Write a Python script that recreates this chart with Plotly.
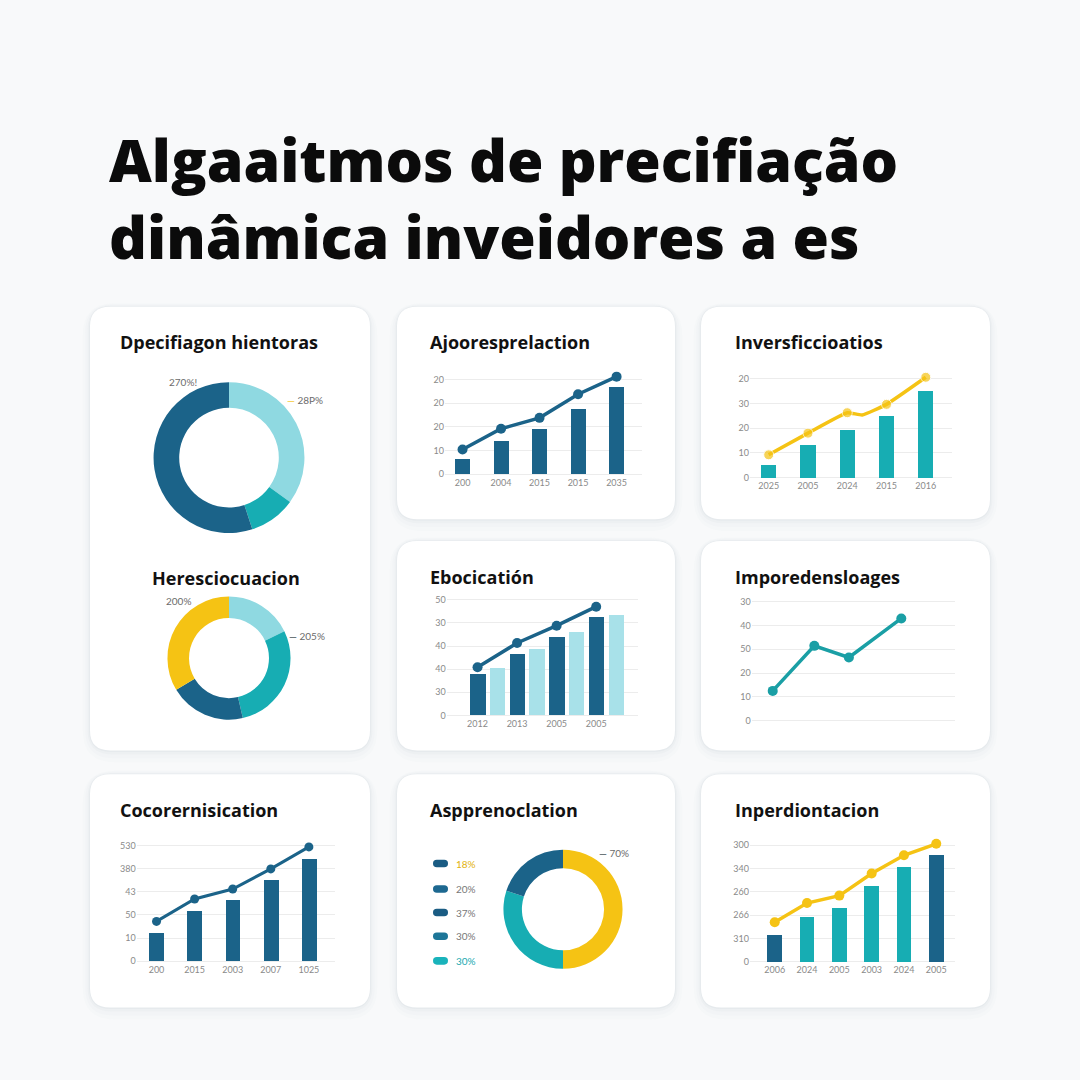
import plotly.graph_objects as go

W = H = 1080


def px(x):
    return x / W


def py(y):
    return 1 - y / H


# ---------------- colours ----------------
DARK = "#1b6389"
TEAL = "#17adb3"
TEAL_LINE = "#1a9fa5"
LIGHT = "#a8e1e9"
LIGHT_DONUT = "#8fd9e1"
YELLOW = "#f5c314"
GRID = "#ececec"
TICK = "#8a8a8a"
FONT = "Lato"
HEAD = "Open Sans"

# ---------------- data ----------------
title_line1 = "Algaaitmos de precifiação"
title_line2 = "dinâmica inveidores a es"

panel_titles = [
    "Dpecifiagon hientoras", "Heresciocuacion", "Ajooresprelaction",
    "Inversficcioatios", "Ebocicatión", "Imporedensloages",
    "Cocorernisication", "Aspprenoclation", "Inperdiontacion",
]

# donut 1 (top-left)
d1_values = [35, 10, 55]
d1_colors = [LIGHT_DONUT, TEAL, DARK]
d1_label_a = "270%!"
d1_label_b = "28P%"

# donut 2 (left, lower)
d2_values = [17.8, 28.6, 20.0, 33.6]
d2_colors = [LIGHT_DONUT, TEAL, DARK, YELLOW]
d2_label_a = "200%"
d2_label_b = "205%"

# panel 2 : bars + line
p2_x = [0, 1, 2, 3, 4]
p2_xlabels = ["200", "2004", "2015", "2015", "2035"]
p2_bars = [6.2, 14.2, 19.2, 27.5, 36.7]
p2_line = [10.4, 19.2, 23.8, 33.8, 41.2]
p2_yticks = [0, 10, 20, 30, 40]
p2_ylabels = ["0", "10", "20", "20", "20"]

# panel 3 : teal bars + yellow line (with a dip between 3rd and 4th point)
p3_x = [0, 1, 2, 3, 4]
p3_xlabels = ["2025", "2005", "2024", "2015", "2016"]
p3_bars = [5.2, 13.2, 19.5, 25.0, 35.4]
p3_line_x = [0, 1, 2, 2.38, 3, 4]
p3_line = [9.2, 18.0, 26.3, 25.4, 29.7, 40.7]
p3_marker = [10, 10, 10, 0, 10, 10]
p3_yticks = [0, 10, 20, 30, 40]
p3_ylabels = ["0", "10", "20", "30", "20"]

# panel 5 : paired bars + line
p5_x = [0, 1, 2, 3]
p5_xlabels = ["2012", "2013", "2005", "2005"]
p5_dark = [17.5, 26.2, 33.6, 42.2]
p5_light = [20.3, 28.5, 35.9, 43.1]
p5_line = [20.8, 31.3, 38.8, 47.0]
p5_yticks = [0, 10, 20, 30, 40, 50]
p5_ylabels = ["0", "30", "40", "40", "30", "50"]

# panel 6 : line only
p6_x = [0, 1, 1.83, 3.09]
p6_line = [12.5, 31.4, 26.5, 42.9]
p6_yticks = [0, 10, 20, 30, 40, 50]
p6_ylabels = ["0", "10", "20", "50", "40", "30"]

# panel 7 : bars + line
p7_x = [0, 1, 2, 3, 4]
p7_xlabels = ["200", "2015", "2003", "2007", "1025"]
p7_bars = [12.0, 21.5, 26.3, 34.8, 44.3]
p7_line = [17.2, 26.9, 31.2, 39.9, 49.4]
p7_yticks = [0, 10, 20, 30, 40, 50]
p7_ylabels = ["0", "10", "50", "43", "380", "530"]

# panel 8 : donut + pseudo legend
d3_values = [50, 30, 20]
d3_colors = [YELLOW, TEAL, DARK]
d3_label = "70%"
leg8_text = ["18%", "20%", "37%", "30%", "30%"]
leg8_pill = ["#1a5c83", "#1d6890", "#1a5c83", "#1d7698", "#19b3bb"]
leg8_txtcol = ["#e2b20c", "#777777", "#777777", "#777777", "#19a9b0"]

# panel 9 : bars + yellow line
p9_x = [0, 1, 2, 3, 4, 5]
p9_xlabels = ["2006", "2024", "2005", "2003", "2024", "2005"]
p9_bars = [11.9, 19.3, 23.4, 32.9, 40.9, 46.0]
p9_bar_colors = [DARK, TEAL, TEAL, TEAL, TEAL, DARK]
p9_line = [17.0, 25.2, 28.4, 37.9, 45.7, 50.6]
p9_yticks = [0, 10, 20, 30, 40, 50]
p9_ylabels = ["0", "310", "266", "260", "340", "300"]

# ---------------- figure ----------------
fig = go.Figure()
layout = {}
tickfont = dict(family=FONT, size=9, color=TICK)


def add_axes(n, x0, x1, base, ppu, ymax, xr, yvals, ytext, xvals=None, xtext=None):
    xa = "xaxis" if n == 1 else f"xaxis{n}"
    ya = "yaxis" if n == 1 else f"yaxis{n}"
    ymin = -0.6
    bottom = base - ymin * ppu
    top = base - ymax * ppu
    layout[xa] = dict(
        domain=[px(x0), px(x1)], range=xr, anchor="y" if n == 1 else f"y{n}",
        showgrid=False, zeroline=False, showline=False, ticks="",
        tickvals=xvals if xvals is not None else [], ticktext=xtext if xtext is not None else [],
        showticklabels=xvals is not None, tickfont=tickfont, fixedrange=True,
    )
    layout[ya] = dict(
        domain=[py(bottom), py(top)], range=[ymin, ymax], anchor="x" if n == 1 else f"x{n}",
        showgrid=True, gridcolor=GRID, gridwidth=1, zeroline=False, showline=False,
        ticks="", tickvals=yvals, ticktext=ytext, tickfont=tickfont, fixedrange=True,
    )
    return ("x" if n == 1 else f"x{n}"), ("y" if n == 1 else f"y{n}")


# panel 2
xa, ya = add_axes(1, 445, 642, 473.7, 2.385, 44, [-0.455, 4.66], p2_yticks, p2_ylabels, p2_x, p2_xlabels)
fig.add_trace(go.Bar(x=p2_x, y=p2_bars, width=0.39, marker=dict(color=DARK, line=dict(width=0)),
                     xaxis=xa, yaxis=ya, showlegend=False))
fig.add_trace(go.Scatter(x=p2_x, y=p2_line, mode="lines+markers", line=dict(color=DARK, width=3.5),
                         marker=dict(size=10, color=DARK), cliponaxis=False, xaxis=xa, yaxis=ya, showlegend=False))

# panel 3
xa, ya = add_axes(2, 750, 951.7, 477, 2.48, 43, [-0.476, 4.66], p3_yticks, p3_ylabels, p3_x, p3_xlabels)
fig.add_trace(go.Bar(x=p3_x, y=p3_bars, width=0.39, marker=dict(color=TEAL, line=dict(width=0)),
                     xaxis=xa, yaxis=ya, showlegend=False))
fig.add_trace(go.Scatter(x=p3_line_x, y=p3_line, mode="lines+markers", line=dict(color=YELLOW, width=3.5, shape="spline", smoothing=0.4),
                         marker=dict(size=p3_marker, color=YELLOW), cliponaxis=False, xaxis=xa, yaxis=ya, showlegend=False))

# panel 5
xa, ya = add_axes(3, 446.7, 637.7, 716.7, 2.33, 51, [-0.78, 4.05], p5_yticks, p5_ylabels, p5_x, p5_xlabels)
fig.add_trace(go.Bar(x=p5_x, y=p5_dark, width=0.39, offset=-0.195, marker=dict(color=DARK, line=dict(width=0)),
                     xaxis=xa, yaxis=ya, showlegend=False))
fig.add_trace(go.Bar(x=p5_x, y=p5_light, width=0.39, offset=0.305, marker=dict(color=LIGHT, line=dict(width=0)),
                     xaxis=xa, yaxis=ya, showlegend=False))
fig.add_trace(go.Scatter(x=p5_x, y=p5_line, mode="lines+markers", line=dict(color=DARK, width=3.5),
                         marker=dict(size=10, color=DARK), cliponaxis=False, xaxis=xa, yaxis=ya, showlegend=False))

# panel 6
xa, ya = add_axes(4, 751.7, 955, 722, 2.4, 51, [-0.505, 4.38], p6_yticks, p6_ylabels)
fig.add_trace(go.Scatter(x=p6_x, y=p6_line, mode="lines+markers", line=dict(color=TEAL_LINE, width=3.5),
                         marker=dict(size=10, color=TEAL_LINE), cliponaxis=False, xaxis=xa, yaxis=ya, showlegend=False))

# panel 7
xa, ya = add_axes(5, 136.7, 335, 964.3, 2.33, 51, [-0.52, 4.685], p7_yticks, p7_ylabels, p7_x, p7_xlabels)
fig.add_trace(go.Bar(x=p7_x, y=p7_bars, width=0.39, marker=dict(color=DARK, line=dict(width=0)),
                     xaxis=xa, yaxis=ya, showlegend=False))
fig.add_trace(go.Scatter(x=p7_x, y=p7_line, mode="lines+markers", line=dict(color=DARK, width=3),
                         marker=dict(size=9, color=DARK), cliponaxis=False, xaxis=xa, yaxis=ya, showlegend=False))

# panel 9
xa, ya = add_axes(6, 750, 955, 965, 2.35, 52, [-0.765, 5.58], p9_yticks, p9_ylabels, p9_x, p9_xlabels)
fig.add_trace(go.Bar(x=p9_x, y=p9_bars, width=0.46, marker=dict(color=p9_bar_colors, line=dict(width=0)),
                     xaxis=xa, yaxis=ya, showlegend=False))
fig.add_trace(go.Scatter(x=p9_x, y=p9_line, mode="lines+markers", line=dict(color=YELLOW, width=3.5),
                         marker=dict(size=10, color=YELLOW), cliponaxis=False, xaxis=xa, yaxis=ya, showlegend=False))


# donuts
def donut(values, colors, cx, cy, r, hole):
    return go.Pie(values=values, marker=dict(colors=colors, line=dict(width=0)), hole=hole,
                  sort=False, direction="clockwise", rotation=0, textinfo="none", hoverinfo="skip",
                  domain=dict(x=[px(cx - r), px(cx + r)], y=[py(cy + r), py(cy - r)]), showlegend=False)


fig.add_trace(donut(d1_values, d1_colors, 229, 457, 76, 0.66))
fig.add_trace(donut(d2_values, d2_colors, 229, 659, 62, 0.65))
fig.add_trace(donut(d3_values, d3_colors, 563, 912, 60, 0.69))

# ---------------- cards ----------------
cards = [
    (90, 305, 370, 752), (397, 305, 675, 519), (701, 305, 990, 519),
    (397, 541, 675, 752), (701, 541, 990, 752),
    (90, 776, 370, 1011), (397, 776, 675, 1011), (701, 776, 990, 1011),
]


def rrect(x0, y0, x1, y1, r):
    X0, X1 = px(x0), px(x1)
    Y0, Y1 = py(y0), py(y1)  # Y0 top (bigger), Y1 bottom
    R = r / W
    return (f"M {X0+R},{Y0} L {X1-R},{Y0} Q {X1},{Y0} {X1},{Y0-R} "
            f"L {X1},{Y1+R} Q {X1},{Y1} {X1-R},{Y1} L {X0+R},{Y1} Q {X0},{Y1} {X0},{Y1+R} "
            f"L {X0},{Y0-R} Q {X0},{Y0} {X0+R},{Y0} Z")


shapes = []
for (x0, y0, x1, y1) in cards:
    for g, a in [(12, 0.018), (8, 0.025), (4, 0.035), (1.5, 0.05)]:
        shapes.append(dict(type="path", path=rrect(x0 - g * 0.6, y0 - g * 0.3, x1 + g * 0.6, y1 + g, 20 + g),
                           xref="paper", yref="paper", fillcolor=f"rgba(120,135,150,{a})",
                           line=dict(width=0), layer="below"))
    shapes.append(dict(type="path", path=rrect(x0, y0, x1, y1, 20), xref="paper", yref="paper",
                       fillcolor="#ffffff", line=dict(width=0), layer="below"))

# legend pills for panel 8
leg_rows = [866, 891.7, 915.3, 939.3, 964]
for yy, col in zip(leg_rows, leg8_pill):
    shapes.append(dict(type="path", path=rrect(433, yy - 3.8, 448, yy + 3.8, 3.8), xref="paper", yref="paper",
                       fillcolor=col, line=dict(width=0), layer="above"))

# ---------------- annotations ----------------
ann = []
ann.append(dict(text=f"{title_line1}<br>{title_line2}", x=px(107), y=py(195), xanchor="left", yanchor="middle",
                align="left",
                font=dict(family=HEAD, size=59, color="#0b0b0b", weight=800), showarrow=False, xref="paper", yref="paper"))

title_pos = [(118, 341), (150, 578), (428, 341), (733, 341), (428, 577), (733, 577), (118, 812), (428, 812), (733, 812)]
for t, (x, y) in zip(panel_titles, title_pos):
    ann.append(dict(text=t, x=px(x), y=py(y), xanchor="left", yanchor="middle",
                    font=dict(family=HEAD, size=18, color="#111111", weight=700), showarrow=False, xref="paper", yref="paper"))

small = dict(family=FONT, size=10, color="#6b6b6b")
ann.append(dict(text=d1_label_a, x=px(183), y=py(381), xanchor="center", yanchor="middle", font=small,
                showarrow=False, xref="paper", yref="paper"))
ann.append(dict(text=f"<span style='color:{YELLOW}'>—</span> {d1_label_b}", x=px(285), y=py(399),
                xanchor="left", yanchor="middle", font=small, showarrow=False, xref="paper", yref="paper"))
ann.append(dict(text=d2_label_a, x=px(178), y=py(601), xanchor="center", yanchor="middle", font=small,
                showarrow=False, xref="paper", yref="paper"))
ann.append(dict(text=f"<span style='color:#2b3a44'>—</span> {d2_label_b}", x=px(287), y=py(637),
                xanchor="left", yanchor="middle", font=small, showarrow=False, xref="paper", yref="paper"))
ann.append(dict(text=f"<span style='color:#2b3a44'>—</span> {d3_label}", x=px(597), y=py(855),
                xanchor="left", yanchor="middle", font=small, showarrow=False, xref="paper", yref="paper"))
for yy, t, c in zip(leg_rows, leg8_text, leg8_txtcol):
    ann.append(dict(text=t, x=px(454), y=py(yy), xanchor="left", yanchor="middle",
                    font=dict(family=FONT, size=10, color=c), showarrow=False, xref="paper", yref="paper"))

fig.update_layout(
    width=W, height=H, autosize=False,
    margin=dict(l=0, r=0, t=0, b=0),
    paper_bgcolor="#f8f9fa", plot_bgcolor="rgba(0,0,0,0)",
    shapes=shapes, annotations=ann, barmode="overlay", bargap=0,
    **layout,
)

fig.write_html(
    "out.html",
    config={"displayModeBar": False},
    post_script="document.body.style.margin='0';document.body.style.overflow='hidden';",
)
